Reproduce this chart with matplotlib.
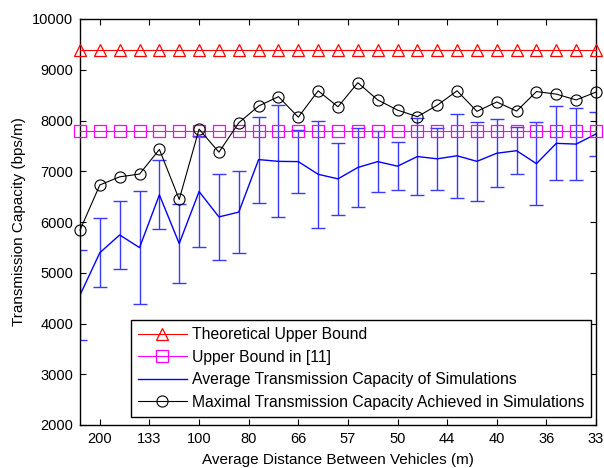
import numpy as np
import matplotlib
matplotlib.use("Agg")
import matplotlib.pyplot as plt

plt.rcParams['font.family'] = ['Liberation Sans', 'DejaVu Sans']

# number of vehicles on the 1000 m road
vehicles = np.arange(4, 31)

theory_bound = 9385
ref_bound = 7800

avg_capacity = [4560, 5395, 5745, 5495, 6535, 5575, 6600, 6100, 6195, 7230,
                7195, 7190, 6940, 6850, 7075, 7190, 7100, 7290, 7245, 7305,
                7195, 7355, 7405, 7150, 7550, 7535, 7735]
avg_err = [885, 680, 676, 1120, 680, 782, 1090, 845, 805, 848,
           1104, 614, 1060, 712, 785, 598, 476, 762, 607, 830,
           773, 670, 466, 814, 726, 716, 437]
max_capacity = [5840, 6730, 6890, 6945, 7430, 6445, 7830, 7375, 7955, 8285,
                8470, 8065, 8585, 8270, 8745, 8405, 8205, 8075, 8300, 8585,
                8180, 8365, 8185, 8570, 8520, 8405, 8560]

tick_vehicles = [5, 7.5, 10, 12.5, 15, 17.5, 20, 22.5, 25, 27.5, 30]
tick_labels = ['200', '133', '100', '80', '66', '57', '50', '44', '40', '36', '33']

fig = plt.figure(figsize=(6.04, 4.68), dpi=100)
ax = fig.add_axes([80/604, 43/468, 516/604, 406/468])

lw = 0.8
ax.plot(vehicles, [theory_bound]*len(vehicles), color='#ff0000', lw=lw,
        marker='^', ms=9, mfc='none', mec='#ff0000', mew=0.9,
        label='Theoretical Upper Bound', clip_on=False, zorder=3)
ax.plot(vehicles, [ref_bound]*len(vehicles), color='#ff00ff', lw=lw,
        marker='s', ms=8, mfc='none', mec='#ff00ff', mew=0.9,
        label='Upper Bound in [11]', clip_on=False, zorder=3)
ax.errorbar(vehicles, avg_capacity, yerr=avg_err, fmt='none',
            ecolor='#3a3aff', elinewidth=1.0, capsize=5, capthick=1.0,
            zorder=2)
ax.plot(vehicles, avg_capacity, color='#0000ff', lw=1.0,
        label='Average Transmission Capacity of Simulations', zorder=2)
ax.plot(vehicles, max_capacity, color='black', lw=lw,
        marker='o', ms=8, mfc='none', mec='black', mew=0.8,
        label='Maximal Transmission Capacity Achieved in Simulations',
        clip_on=False, zorder=3)

ax.set_xlim(4, 30)
ax.set_ylim(2000, 10000)
ax.set_xticks(tick_vehicles)
ax.set_xticklabels(tick_labels)
ax.set_yticks(np.arange(2000, 10001, 1000))
ax.tick_params(direction='in', length=4, width=0.8, labelsize=10.5,
               top=True, right=True, pad=5)
for side in ax.spines.values():
    side.set_linewidth(1.0)

ax.set_xlabel('Average Distance Between Vehicles (m)', fontsize=11, labelpad=5)
ax.set_ylabel('Transmission Capacity (bps/m)', fontsize=11, labelpad=4)

leg = ax.legend(loc='lower left', bbox_to_anchor=(0.099, 0.02),
                borderaxespad=0, fontsize=11.3, handlelength=3.1,
                handletextpad=0.3, labelspacing=0.48, borderpad=0.45,
                fancybox=False, framealpha=1, edgecolor='black')
leg.get_frame().set_linewidth(1.0)

fig.savefig('out.png', dpi=100)
